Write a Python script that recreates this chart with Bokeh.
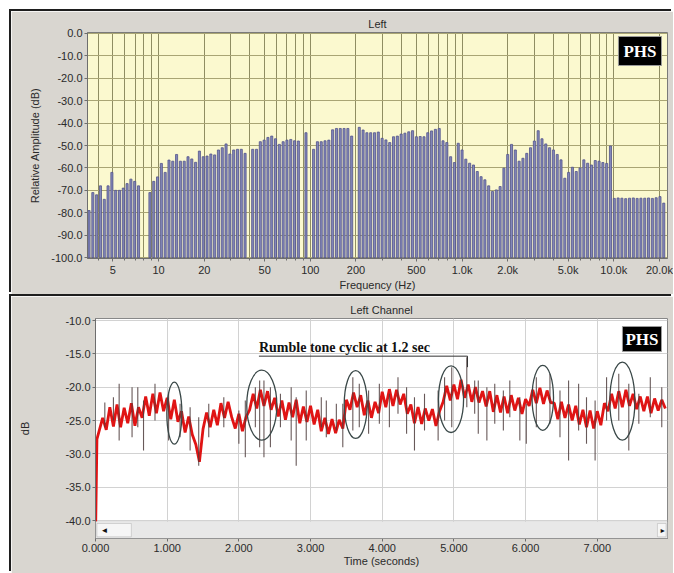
import numpy as np
from bokeh.plotting import figure
from bokeh.layouts import column
from bokeh.models import (Range1d, FixedTicker, NumeralTickFormatter, Label,
                          BoxAnnotation)
from bokeh.embed import file_html
from bokeh.resources import INLINE

# ---------------- data: spectrum (1/12-octave bands) ----------------
band_freqs = [3.480, 3.687,
    3.906, 4.139, 4.385, 4.645, 4.922, 5.214, 5.524, 5.853, 6.201, 6.570, 6.960, 7.374,
    7.813, 8.277, 8.769, 9.291, 9.843, 10.43, 11.05, 11.71, 12.40, 13.14, 13.92, 14.75,
    15.63, 16.55, 17.54, 18.58, 19.69, 20.86, 22.10, 23.41, 24.80, 26.28, 27.84, 29.50,
    31.25, 33.11, 35.08, 37.16, 39.37, 41.71, 44.19, 46.82, 49.61, 52.56, 55.68, 58.99,
    62.50, 66.22, 70.15, 74.33, 78.75, 83.43, 88.39, 93.64, 99.21, 105.1, 111.4, 118.0,
    125.0, 132.4, 140.3, 148.7, 157.5, 166.9, 176.8, 187.3, 198.4, 210.2, 222.7, 236.0,
    250.0, 264.9, 280.6, 297.3, 315.0, 333.7, 353.6, 374.6, 396.9, 420.4, 445.4, 471.9,
    500.0, 529.7, 561.2, 594.6, 630.0, 667.4, 707.1, 749.2, 793.7, 840.9, 890.9, 943.9,
    1000, 1059, 1122, 1189, 1260, 1335, 1414, 1498, 1587, 1682, 1782, 1888,
    2000, 2119, 2245, 2378, 2520, 2670, 2828, 2997, 3175, 3364, 3564, 3775,
    4000, 4238, 4490, 4757, 5040, 5339, 5657, 5993, 6350, 6727, 7127, 7551,
    8000, 8476, 8980, 9514, 10079, 10679, 11314, 11987, 12699, 13454, 14254, 15102,
    16000, 16951, 17959, 19027, 20159, 21357]

band_levels = [-79, -71,
    -72, -68, -74, -68, -62, -70, -70, -69, -67, -65, -66, -68,
    None, None, -71, -66, -64, -58, -62, -56.5, -57, -54, -57, -57,
    -55, -56, -57.5, -52.5, -55, -54.7, -53.8, -54.2, -52, -51, -49.3, -53.8,
    -52, -51.7, -51.7, -53.5, None, -51.7, -51.7, -48.3, -47.6, -46.4, -45.8, -47,
    -49.5, -48.3, -47.6, -47.3, -47.9, -48, None, -44.3, None, -51.7, -48.3, -48.3,
    -47.9, -47.6, -43, -42.4, -42.4, -42.4, -42.4, -45.8, None, -41.9, -43.1, -44.3,
    -44.3, -44.3, -44, -46.8, -47.5, -48.7, -46.1, -45.8, -44.9, -44.5, -43.9, -43.4,
    -46.1, -46, -46.1, -44.3, -43.5, -42.8, -42.4, -47.9, -48.7, -55, -57.6, -49,
    -52, -56.1, -57.9, -58.7, -61.6, -63.9, -65.3, -68, -70.5, -69.8, -68.3, -60.1,
    -54, -49.5, -52, -57, -55.7, -53.5, -51, -48, -43.4, -47, -49.3, -51,
    -52, -54, -56.4, -64.6, -62, -59.7, -61.6, -60, -56.4, -57.9, -58.7, -56.7,
    -57, -57.6, -58, -50.2, -73.6, -73.4, -73.5, -73.7, -73.5, -73.4, -73.6, -73.5,
    -73.5, -73.4, -73.6, -73.3, -72.8, -75.7]

amp_floor = -100.0
freq_ticks = [5, 10, 20, 50, 100, 200, 500, 1000, 2000, 5000, 10000, 20000]
freq_tick_labels = ["5", "10", "20", "50", "100", "200", "500", "1.0k", "2.0k",
                    "5.0k", "10.0k", "20.0k"]
freq_grid = [m * 10 ** d for d in range(0, 5) for m in range(1, 10)]
amp_ticks = [0, -10, -20, -30, -40, -50, -60, -70, -80, -90, -100]

# ---------------- data: level vs time ----------------
level_db = [-42.6,
    -27.8, -24.6, -26.4, -23.0, -25.9, -22.6, -26.0, -23.1, -25.4, -22.4,
    -25.8, -23.0, -24.6, -21.4, -24.3, -21.0, -23.9, -20.8, -23.6, -21.6,
    -24.8, -21.9, -25.2, -23.6, -26.8, -24.4, -27.1, -28.6, -31.2, -26.3,
    -23.8, -26.0, -23.4, -25.7, -22.4, -24.6, -22.2, -24.5, -26.2, -24.0,
    -26.6, -24.5, -23.4, -21.0, -23.2, -20.4, -22.8, -20.6, -23.4, -21.6,
    -24.4, -22.0, -24.9, -22.3, -24.5, -21.9, -25.4, -22.9, -25.2, -22.8,
    -25.6, -23.4, -26.6, -24.6, -27.0, -24.8, -26.9, -24.9, -26.2, -21.9,
    -23.4, -20.8, -23.0, -21.2, -24.2, -22.0, -24.6, -22.2, -23.9, -20.7,
    -23.0, -20.3, -22.8, -20.4, -22.6, -21.0, -24.0, -22.6, -25.4, -23.0,
    -25.5, -23.2, -25.0, -23.3, -25.8, -23.6, -22.2, -19.8, -22.0, -19.6,
    -21.8, -18.9, -21.6, -19.6, -22.2, -20.0, -22.3, -20.6, -22.9, -20.6,
    -23.7, -21.2, -23.8, -21.4, -23.9, -21.2, -23.5, -21.6, -24.0, -21.8,
    -22.8, -20.4, -22.4, -20.1, -22.5, -20.5, -22.3, -22.4, -24.8, -22.2,
    -24.6, -22.6, -25.0, -22.8, -25.6, -23.4, -26.0, -23.5, -26.2, -23.6,
    -25.7, -22.4, -23.6, -21.0, -23.2, -20.6, -23.0, -20.4, -22.8, -21.0,
    -23.3, -21.4, -23.6, -21.4, -23.9, -21.7, -23.5, -21.9, -23.2]
level_step = 0.05
level_time = [round(i * level_step, 2) for i in range(len(level_db))]
level_time[1] = 0.02

spike_t = [0.13, 0.25, 0.33, 0.51, 0.59, 0.67, 0.83, 1.02, 1.18, 1.32, 1.44, 1.58,
           1.79, 2.00, 2.09, 2.23, 2.29, 2.35, 2.44, 2.58,
           2.73, 2.80, 2.94, 3.15, 3.22, 3.36, 3.45, 3.59, 3.68, 3.81, 3.96, 4.10,
           4.22, 4.34, 4.45, 4.59, 4.78, 4.87, 4.97, 5.18, 5.29,
           5.34, 5.46, 5.57, 5.69, 5.78, 5.92, 6.01, 6.15, 6.34, 6.48, 6.60, 6.74,
           6.85, 6.97, 7.13, 7.30, 7.44, 7.58, 7.74, 7.90]
spike_hi = [-22.3, -21.5, -19.5, -20.0, -20.0, -22.0, -19.5, -21.0, -22.5, -23.0, -24.5, -22.5,
            -21.5, -23.5, -22.0, -20.0, -19.0, -19.0, -20.0, -21.0,
            -20.0, -21.5, -20.5, -21.5, -22.0, -22.5, -22.5, -18.5, -19.5, -20.5, -19.5, -21.0,
            -18.5, -20.0, -21.5, -21.0, -20.5, -18.5, -17.0, -15.5, -19.0,
            -19.0, -20.0, -19.5, -20.5, -19.0, -21.5, -22.5, -18.5, -18.0, -20.5, -19.0, -19.5,
            -21.5, -22.0, -18.5, -18.0, -19.5, -21.0, -18.5, -20.0]
spike_lo = [-26.0, -25.0, -28.0, -27.5, -26.0, -29.5, -25.0, -28.0, -27.5, -29.5, -31.8, -27.5,
            -26.0, -28.5, -30.5, -26.0, -29.0, -30.5, -29.0, -26.0,
            -28.0, -31.8, -28.0, -26.0, -27.5, -26.5, -29.0, -26.5, -26.0, -27.0, -25.5, -26.0,
            -24.0, -27.0, -29.5, -26.5, -28.0, -25.0, -26.0, -23.0, -24.0,
            -27.0, -28.0, -25.5, -26.5, -24.5, -28.0, -28.5, -26.0, -25.5, -27.5, -31.0, -26.5,
            -28.5, -31.0, -25.0, -25.0, -29.5, -25.5, -24.5, -26.0]

ring_t = [1.10, 2.32, 3.63, 4.96, 6.24, 7.35]
ring_db = [-23.9, -22.7, -22.6, -21.8, -21.6, -22.1]
ring_w = [0.21, 0.42, 0.32, 0.35, 0.30, 0.35]
ring_h = [9.3, 10.5, 10.2, 10.0, 9.75, 11.7]

note_text = "Rumble tone cyclic at 1.2 sec"
note_x = [2.28, 5.19, 5.19]
note_y = [-15.35, -15.35, -17.0]

time_ticks = [0, 1, 2, 3, 4, 5, 6, 7]
db_ticks = [-10, -15, -20, -25, -30, -35, -40]

# ---------------- styling ----------------
PANEL = "#d9d6d0"
FONT = "Liberation Sans"
TICK_COLOR = "#2a2a2a"
W = 662
SHADOW = {"box-shadow": "-2px -2px 0px 0px #1e1e1e"}


def style_axes(p):
    for ax in (p.xaxis[0], p.yaxis[0]):
        ax.major_label_text_font = FONT
        ax.major_label_text_font_size = "11px"
        ax.major_label_text_color = TICK_COLOR
        ax.axis_label_text_font = FONT
        ax.axis_label_text_font_size = "11px"
        ax.axis_label_text_font_style = "normal"
        ax.axis_label_text_color = TICK_COLOR
        ax.axis_line_color = "#6e6e6e"
        ax.major_tick_line_color = "#6e6e6e"
        ax.minor_tick_line_color = "#6e6e6e"
        ax.major_tick_in = 0
        ax.major_tick_out = 3
        ax.minor_tick_in = 0
        ax.minor_tick_out = 2
        ax.major_label_standoff = 2
    p.title.text_font = FONT
    p.title.text_font_size = "11px"
    p.title.text_font_style = "normal"
    p.title.text_color = TICK_COLOR
    p.title.align = "center"
    p.title.standoff = 5


# ---------------- top: spectrum ----------------
x1_hi = 22600
p1 = figure(width=W, height=283, x_axis_type="log",
            x_range=Range1d(3.4, x1_hi), y_range=Range1d(-100.4, 0.4),
            output_backend="svg", toolbar_location=None, title="Left",
            min_border_left=76, min_border_right=6, min_border_top=21,
            min_border_bottom=36)
p1.frame_align = False
p1.margin = (11, 0, 0, 11)
p1.styles = SHADOW
p1.background_fill_color = "#fbf9cf"
p1.border_fill_color = PANEL
p1.outline_line_color = "#7a7a7a"

lv = np.array([np.nan if v is None else v for v in band_levels], dtype=float)
fr = np.array(band_freqs, dtype=float)
p1.quad(left=fr * 2 ** (-1 / 44), right=fr * 2 ** (1 / 44), bottom=amp_floor, top=lv,
        fill_color="#8488bb", line_color="#50538a", line_width=0.8)

p1.xaxis.ticker = FixedTicker(ticks=freq_ticks, minor_ticks=freq_grid)
p1.xaxis.major_label_overrides = {float(t): l for t, l in zip(freq_ticks, freq_tick_labels)}
p1.xaxis.axis_label = "Frequency (Hz)"
p1.xaxis.axis_label_standoff = 0
p1.yaxis.ticker = FixedTicker(ticks=amp_ticks)
p1.yaxis.formatter = NumeralTickFormatter(format="0.0")
p1.yaxis.axis_label = "Relative Amplitude (dB)"
p1.yaxis.axis_label_standoff = 7
p1.xgrid.ticker = FixedTicker(ticks=freq_grid)
p1.xgrid.grid_line_color = "#8f8d62"
p1.ygrid.ticker = FixedTicker(ticks=amp_ticks)
p1.ygrid.grid_line_color = "#a9a574"
style_axes(p1)

p1.add_layout(Label(x=x1_hi, y=0.4, x_offset=-6, y_offset=-4, text="PHS",
                    text_align="right", text_baseline="top", text_color="white",
                    text_font="Liberation Serif", text_font_style="bold",
                    text_font_size="17px", background_fill_color="black",
                    border_line_color="#9a9a9a", padding=5))

# ---------------- bottom: level vs time ----------------
x2_hi = 7.98
p2 = figure(width=W, height=277, x_range=Range1d(0, x2_hi),
            y_range=Range1d(-42.7, -9.7), output_backend="svg",
            toolbar_location=None, title="Left Channel",
            min_border_left=84, min_border_right=6, min_border_top=22,
            min_border_bottom=35)
p2.frame_align = False
p2.margin = (2, 0, 0, 11)
p2.styles = SHADOW
p2.background_fill_color = "white"
p2.border_fill_color = PANEL
p2.outline_line_color = "#888888"
p2.xaxis.ticker = FixedTicker(ticks=time_ticks)
p2.xaxis.formatter = NumeralTickFormatter(format="0.000")
p2.xaxis.axis_label = "Time (seconds)"
p2.xaxis.axis_label_standoff = 0
p2.yaxis.ticker = FixedTicker(ticks=db_ticks)
p2.yaxis.formatter = NumeralTickFormatter(format="0.0")
p2.yaxis.axis_label = "dB"
p2.yaxis.axis_label_standoff = 31
p2.xgrid.grid_line_color = "#d2d2d2"
p2.ygrid.grid_line_color = "#d2d2d2"
style_axes(p2)

# scrollbar strip at the bottom of the plot area
p2.add_layout(BoxAnnotation(bottom=-42.7, top=-40.15, fill_color="#e8e8e8",
                            fill_alpha=1, line_color="#c4c4c4"))
p2.add_layout(BoxAnnotation(left=0.02, right=0.5, bottom=-42.45, top=-40.45,
                            fill_color="#f6f6f6", fill_alpha=1, line_color="#8a8a8a"))
p2.add_layout(BoxAnnotation(left=7.84, right=7.96, bottom=-42.45, top=-40.45,
                            fill_color="#f6f6f6", fill_alpha=1, line_color="#8a8a8a"))
p2.add_layout(Label(x=0.07, y=-41.45, text="\u25c4", text_font_size="8px",
                    text_baseline="middle", text_color="#111"))
p2.add_layout(Label(x=7.865, y=-41.45, text="\u25ba", text_font_size="7px",
                    text_baseline="middle", text_color="#111"))

p2.line(level_time, level_db, line_color="#e01414", line_width=2.8)
p2.segment(x0=spike_t, y0=spike_lo, x1=spike_t, y1=spike_hi,
           line_color="#4e3c3c", line_width=1.1, line_alpha=0.85)
p2.ellipse(x=ring_t, y=ring_db, width=ring_w, height=ring_h,
           fill_color=None, line_color="#3a4848", line_width=1.3)
p2.line(note_x, note_y, line_color="#333333", line_width=1)
p2.add_layout(Label(x=note_x[0], y=note_y[0], y_offset=1, text=note_text,
                    text_baseline="bottom", text_font="Liberation Serif",
                    text_font_style="bold", text_font_size="14px",
                    text_color="#111111"))
p2.add_layout(Label(x=x2_hi, y=-9.7, x_offset=-6, y_offset=-8, text="PHS",
                    text_align="right", text_baseline="top", text_color="white",
                    text_font="Liberation Serif", text_font_style="bold",
                    text_font_size="17px", background_fill_color="black",
                    border_line_color="#9a9a9a", padding=3))

layout = column(p1, p2, spacing=0)
open("out.html", "w").write(file_html(layout, INLINE))
